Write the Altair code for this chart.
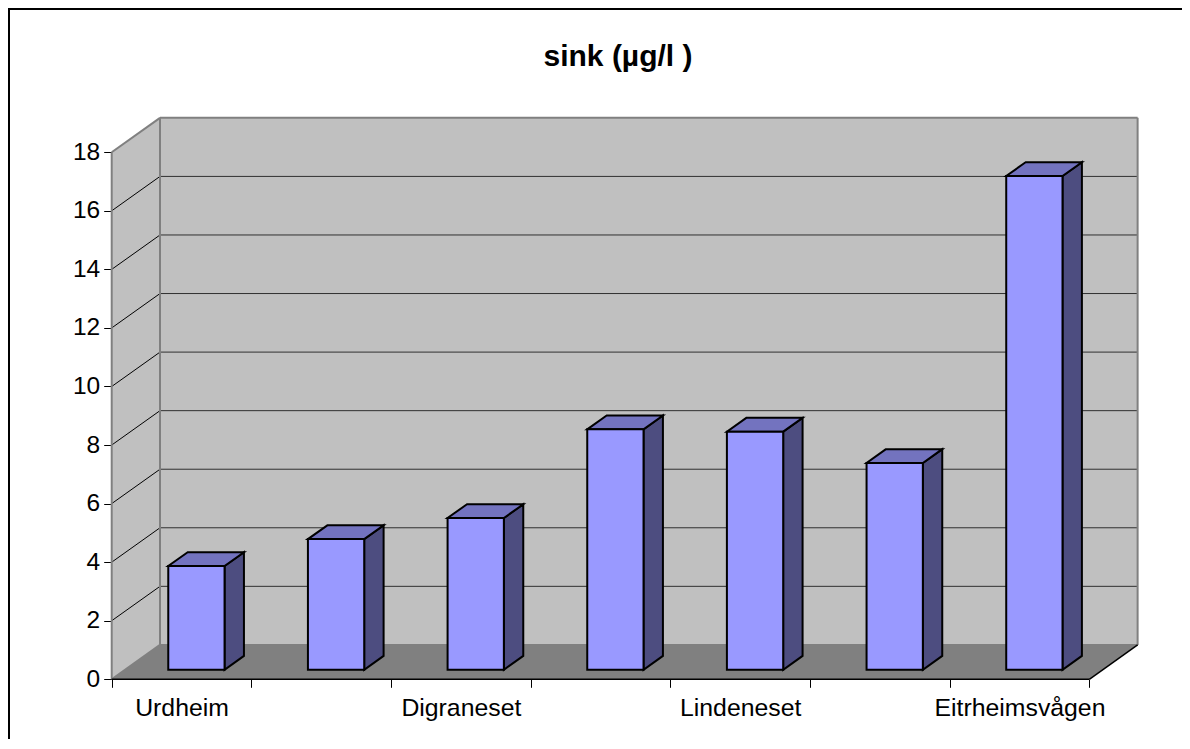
import json
import altair as alt
import pandas as pd

# --- data
categories = ["Urdheim", "", "Digraneset", "", "Lindeneset", "", "Eitrheimsvågen"]
values = [3.54, 4.46, 5.18, 8.21, 8.13, 7.06, 16.86]
y_ticks = [0, 2, 4, 6, 8, 10, 12, 14, 16, 18]
title = "sink (µg/l )"

# --- 3-D box geometry, in category units (x) and value units (y)
PX_CAT, PX_VAL = 139.66, 29.28       # pixels per category, pixels per unit
W, H = 1174, 731                     # view size
X0_PX, Y0_PX = 103.7, 671.3          # where category 0 and value 0 sit in the view
WALL_DX, WALL_DY = 48.3 / PX_CAT, 34.4 / PX_VAL
BAR_L, BAR_R = 0.405, 0.808
BAR_BASE = 9.6 / PX_VAL
BAR_DX, BAR_DY = 19.4 / PX_CAT, 13.8 / PX_VAL
N = len(categories)
YMAX = y_ticks[-1]

FRONT, SIDE, TOP = "#9999ff", "#4d4d80", "#7373bf"
WALL, FLOOR, EDGE = "#c0c0c0", "#808080", "#808080"
FONT = "Liberation Sans"

x_scale = alt.Scale(domain=[-X0_PX / PX_CAT, (W - X0_PX) / PX_CAT], nice=False, zero=False)
y_scale = alt.Scale(domain=[(Y0_PX - H) / PX_VAL, Y0_PX / PX_VAL], nice=False, zero=False)

x_ticks = [i / 2 for i in range(2 * N + 1)]
names_js = json.dumps(categories, ensure_ascii=False)
x_axis = alt.Axis(
    values=x_ticks, domain=False, grid=False, orient="bottom", offset=Y0_PX - H,
    tickSize=8, tickWidth=1, tickColor="#000000",
    tickOpacity={"condition": {"test": "datum.value % 1 === 0", "value": 1}, "value": 0},
    labelExpr=f"datum.value % 1 === 0 ? '' : {names_js}[floor(datum.value)]",
    labelOverlap=False, labelFlush=False, labelBound=False, labelAngle=0,
    labelFont=FONT, labelFontSize=24.8, labelColor="#000000", labelPadding=8.5,
    title=None,
)
y_axis = alt.Axis(
    values=y_ticks, domain=False, grid=False, orient="left", offset=-X0_PX,
    tickSize=8, tickWidth=1, tickColor="#000000",
    labelFont=FONT, labelFontSize=24.5, labelColor="#000000", labelPadding=4,
    labelOverlap=False, labelBound=False, labelFlush=False,
    title=None,
)

X = lambda f="x": alt.X(f"{f}:Q", scale=x_scale, axis=None, title=None)
Y = lambda f="y": alt.Y(f"{f}:Q", scale=y_scale, axis=None, title=None)

# --- tables built from the arrays
d = WALL_DX
h = WALL_DY

axes_layer = alt.Chart(pd.DataFrame({"x": [0.0], "y": [0.0]})).mark_point(opacity=0).encode(
    x=alt.X("x:Q", scale=x_scale, axis=x_axis, title=None),
    y=alt.Y("y:Q", scale=y_scale, axis=y_axis, title=None),
)

frame_left = alt.Chart(pd.DataFrame({"x": [(1 - X0_PX) / PX_CAT]})).mark_rule(
    color="#000000", strokeWidth=2).encode(x=X())
frame_top = alt.Chart(pd.DataFrame({"y": [(Y0_PX - 1) / PX_VAL]})).mark_rule(
    color="#000000", strokeWidth=2).encode(y=Y())

left_wall = alt.Chart(pd.DataFrame({"x": [0, d], "y": [YMAX, YMAX + h], "y2": [0, h]})).mark_area(
    color=WALL, interpolate="linear").encode(x=X(), y=Y(), y2="y2:Q")
back_wall = alt.Chart(pd.DataFrame({"x": [d], "x2": [N + d], "y": [YMAX + h], "y2": [h]})).mark_rect(
    color=WALL).encode(x=X(), x2="x2:Q", y=Y(), y2="y2:Q")
floor = alt.Chart(pd.DataFrame({"y": [0, h], "x": [0, d], "x2": [N, N + d]})).mark_area(
    color=FLOOR, orient="horizontal", interpolate="linear").encode(x=X(), x2="x2:Q", y=Y())

grid_vals = [t for t in y_ticks if 0 < t < YMAX]
back_grid = alt.Chart(pd.DataFrame({
    "x": [d] * len(grid_vals), "x2": [N + d] * len(grid_vals), "y": [t + h for t in grid_vals]
})).mark_rule(color="#303030", strokeWidth=1).encode(x=X(), x2="x2:Q", y=Y())
side_grid = alt.Chart(pd.DataFrame({
    "k": [t for t in grid_vals for _ in range(2)],
    "x": [p for _ in grid_vals for p in (0, d)],
    "y": [t + p for t in grid_vals for p in (0, h)],
})).mark_line(color="#000000", strokeWidth=1).encode(x=X(), y=Y(), detail="k:N")

edge_rows = [
    (0, 0, 0, YMAX), (0, d, YMAX, YMAX + h), (d, d, h, YMAX + h),
    (d, N + d, YMAX + h, YMAX + h), (N + d, N + d, h, YMAX + h), (0, d, 0, h),
    (d, N + d, h, h),
]
edges = alt.Chart(pd.DataFrame({
    "k": [i for i in range(len(edge_rows)) for _ in range(2)],
    "x": [v for r in edge_rows for v in r[:2]],
    "y": [v for r in edge_rows for v in r[2:]],
})).mark_line(color=EDGE, strokeWidth=2).encode(x=X(), y=Y(), detail="k:N")

floor_rows = [(0, N, 0, 0), (N, N + d, 0, h)]
floor_edges = alt.Chart(pd.DataFrame({
    "k": [i for i in range(len(floor_rows)) for _ in range(2)],
    "x": [v for r in floor_rows for v in r[:2]],
    "y": [v for r in floor_rows for v in r[2:]],
})).mark_line(color="#000000", strokeWidth=1.5).encode(x=X(), y=Y(), detail="k:N")

idx = list(range(N))
side_df = pd.DataFrame({
    "k": [i for i in idx for _ in range(2)],
    "x": [i + BAR_R + p for i in idx for p in (0, BAR_DX)],
    "y": [BAR_BASE + values[i] + p for i in idx for p in (0, BAR_DY)],
    "y2": [BAR_BASE + p for i in idx for p in (0, BAR_DY)],
})
sides = alt.Chart(side_df).mark_area(
    color=SIDE, stroke="#000000", strokeWidth=2, interpolate="linear"
).encode(x=X(), y=Y(), y2="y2:Q", detail="k:N")

top_df = pd.DataFrame({
    "k": [i for i in idx for _ in range(2)],
    "y": [BAR_BASE + values[i] + p for i in idx for p in (0, BAR_DY)],
    "x": [i + BAR_L + p for i in idx for p in (0, BAR_DX)],
    "x2": [i + BAR_R + p for i in idx for p in (0, BAR_DX)],
})
tops = alt.Chart(top_df).mark_area(
    color=TOP, stroke="#000000", strokeWidth=2, orient="horizontal", interpolate="linear"
).encode(x=X(), x2="x2:Q", y=Y(), detail="k:N")

front_df = pd.DataFrame({
    "x": [i + BAR_L for i in idx], "x2": [i + BAR_R for i in idx],
    "y": [BAR_BASE + v for v in values], "y2": [BAR_BASE] * N,
})
fronts = alt.Chart(front_df).mark_rect(
    color=FRONT, stroke="#000000", strokeWidth=2
).encode(x=X(), x2="x2:Q", y=Y(), y2="y2:Q")

chart = alt.layer(
    axes_layer, frame_left, frame_top, left_wall, back_wall, floor, side_grid, back_grid,
    edges, floor_edges, sides, tops, fronts,
).resolve_axis(x="independent", y="independent").properties(
    width=W, height=H,
    autosize=alt.AutoSizeParams(type="none"),
    padding=0,
    background="#ffffff",
    title=alt.TitleParams(
        text=title, font=FONT, fontSize=30, fontWeight="bold", color="#000000",
        anchor="middle", frame="group", baseline="alphabetic", offset=0, dx=23, dy=89,
    ),
).configure_view(stroke=None)

chart.save("out.html", embed_options={"renderer": "svg", "actions": False})
